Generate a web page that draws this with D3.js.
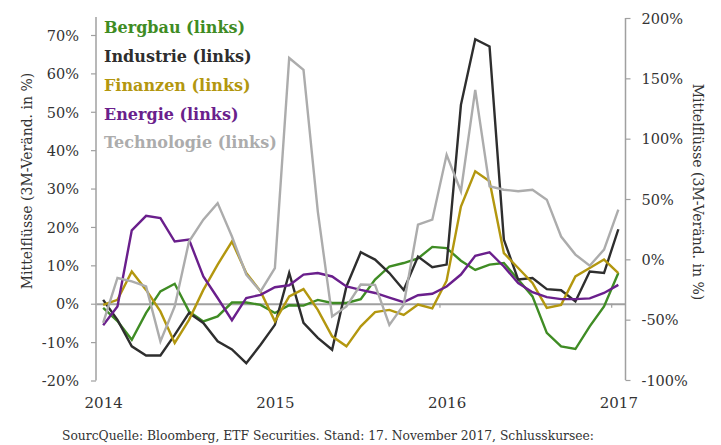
<!DOCTYPE html>
<html><head><meta charset="utf-8">
<script src="https://cdn.jsdelivr.net/npm/d3@7"></script>
<style>
html,body{margin:0;padding:0;background:#fff;}
svg text{font-family:"DejaVu Serif","Liberation Serif",serif;}
</style></head>
<body><svg id="c" width="721" height="445"></svg>
<script>
const months = d3.range(37).map(i => new Date(2014, i, 15));
const yearLabels = ["2014", "2015", "2016", "2017"];
const leftTicks = [-20, -10, 0, 10, 20, 30, 40, 50, 60, 70];
const rightTicks = [-100, -50, 0, 50, 100, 150, 200];
const seriesNames = ["Bergbau (links)", "Industrie (links)", "Finanzen (links)", "Energie (links)", "Technologie (links)"];
const seriesColors = ["#3f8c24", "#2e2e2e", "#b3970f", "#6a1f8c", "#acacac"];
const bergbau = [-1.1,-4.5,-9.4,-2.4,3.2,5.2,-2,-4.6,-3.3,0.3,0.3,-0.3,-2.4,-0.4,-0.5,1,0.2,0.2,1.2,6.3,9.7,10.6,11.8,14.8,14.5,11.2,8.8,10.2,10.6,6.3,1.9,-7.6,-11.1,-11.8,-5.9,-0.7,8];
const industrie = [1,-4.2,-11.1,-13.5,-13.5,-8.1,-2.4,-5,-9.8,-11.9,-15.5,-10.7,-5.5,8,-5,-8.9,-12,4.5,13.4,11.5,8,3.6,12.3,9.5,10.2,51.8,68.9,67,16.7,6.3,6.7,3.8,3.5,0.6,8.4,8,19.4];
const finanzen = [-0.3,1,8.4,3.6,-2,-10.2,-4.2,3.6,10.2,16.2,8,3.2,-4.6,1.9,3.8,-1.6,-8.5,-11.1,-5.9,-2.2,-1.6,-2.9,-0.2,-1.2,6,25.3,34.5,31.9,13.2,9.3,5.4,-1.1,-0.3,7.1,9.3,11.5,8];
const energie = [-5.6,-0.7,19.1,22.9,22.3,16.2,16.7,7.1,1.5,-4.3,1.5,2.3,4.3,4.8,7.6,8,7.1,4.5,3.6,2.8,1.6,0.4,2.2,2.6,4.5,7.6,12.5,13.4,9.7,5.4,3,1.7,1.2,1.2,1.4,2.8,4.9];
const technologie = [-5,6.7,5.8,4.5,-9.8,-0.7,16.2,21.9,26.2,17.5,7.6,3.2,9.3,64,60.9,24,-3.3,-0.7,5,4.9,-5.5,-0.3,20.6,21.9,38.8,29.3,55.7,30.6,29.7,29.3,29.7,27.1,17.5,12.8,9.9,14.1,24.5];
const seriesValues = [bergbau, industrie, finanzen, energie, technologie];
const axisTitle = "Mittelflüsse (3M-Veränd. in %)";
const sourceText = "SourcQuelle: Bloomberg, ETF Securities. Stand: 17. November 2017, Schlusskursee:";

const svg = d3.select("#c");
const xL = 96, xR = 625.5;
const x = d3.scalePoint().domain(d3.range(months.length)).range([xL, xR]).padding(0.5);
const step = x.step();
const yL = d3.scaleLinear().domain([-20, 70]).range([380.5, 35]);
const yR = d3.scaleLinear().domain([-100, 200]).range([380, 18]);
const axisCol = "#a0a0a0", textCol = "#333";

// left axis
const gl = svg.append("g").attr("transform", `translate(${xL},0)`)
  .call(d3.axisLeft(yL).tickValues(leftTicks).tickSize(5).tickSizeOuter(0).tickPadding(12).tickFormat(d => d + "%"));
gl.select(".domain").remove();
gl.append("line").attr("x1", 0).attr("x2", 0).attr("y1", 17).attr("y2", 380.5).attr("stroke", axisCol).attr("stroke-width", 1.5);
gl.selectAll(".tick line").attr("stroke", axisCol).attr("stroke-width", 1.2);
gl.selectAll(".tick text").attr("fill", textCol).style("font-size", "14.5px").attr("dy", "0.36em");

// right axis
const gr = svg.append("g").attr("transform", `translate(${xR},0)`)
  .call(d3.axisRight(yR).tickValues(rightTicks).tickSize(5).tickSizeOuter(0).tickPadding(11).tickFormat(d => d + "%"));
gr.select(".domain").remove();
gr.append("line").attr("x1", 0).attr("x2", 0).attr("y1", 18).attr("y2", 380).attr("stroke", axisCol).attr("stroke-width", 1.5);
gr.selectAll(".tick line").attr("stroke", axisCol).attr("stroke-width", 1.2);
gr.selectAll(".tick text").attr("fill", textCol).style("font-size", "14.5px").attr("dy", "0.36em");

// zero line with year ticks
const boundaries = [11, 23, 35].map(i => x(i) + step / 2);
const gz = svg.append("g").attr("transform", `translate(0,${yL(0)})`)
  .call(d3.axisBottom(d3.scaleLinear().domain([xL, xR]).range([xL, xR])).tickValues(boundaries).tickSize(4).tickSizeOuter(0).tickFormat(""));
gz.select(".domain").attr("stroke", axisCol).attr("stroke-width", 2);
gz.selectAll(".tick line").attr("stroke", axisCol).attr("stroke-width", 1.2);

// year labels
const xYears = d3.scalePoint().domain(yearLabels).range([x(0), x(36)]);
const gy = svg.append("g").attr("transform", "translate(0,397)")
  .call(d3.axisBottom(xYears).tickSize(0).tickPadding(0));
gy.select(".domain").remove();
gy.selectAll(".tick text").attr("fill", textCol).style("font-size", "15px").attr("dy", "0.71em");

// lines
const line = d3.line().x((d, i) => x(i)).y(d => yL(d));
seriesValues.forEach((vals, k) => {
  svg.append("path").datum(vals).attr("d", line).attr("fill", "none")
    .attr("stroke", seriesColors[k]).attr("stroke-width", 2.4).attr("stroke-linejoin", "miter");
});

// legend
const baselines = [33, 61.5, 90.5, 119.5, 148];
seriesNames.forEach((n, k) => {
  svg.append("text").attr("x", 104).attr("y", baselines[k]).text(n)
    .attr("fill", seriesColors[k]).style("font-size", "16px").style("font-weight", "bold");
});

// axis titles
svg.append("text").attr("transform", "translate(32,181) rotate(-90)").attr("text-anchor", "middle")
  .attr("fill", textCol).style("font-size", "14px").text(axisTitle);
svg.append("text").attr("transform", "translate(693,192) rotate(90)").attr("text-anchor", "middle")
  .attr("fill", textCol).style("font-size", "14px").text(axisTitle);

// source
svg.append("text").attr("x", 62).attr("y", 440).attr("fill", textCol).style("font-size", "13px")
  .attr("textLength", 532).attr("lengthAdjust", "spacingAndGlyphs").text(sourceText);
</script></body></html>
